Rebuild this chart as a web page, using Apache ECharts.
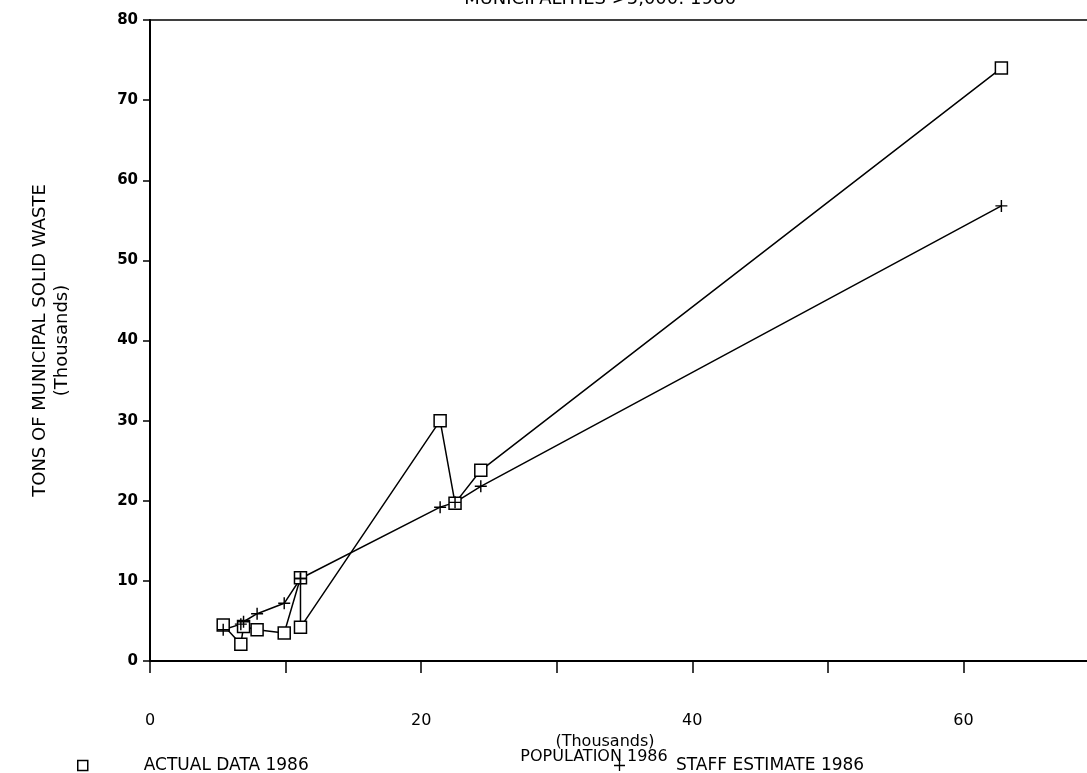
<!DOCTYPE html>
<html lang="en">
<head>
<meta charset="UTF-8">
<title>Municipal Solid Waste vs Population</title>
<script src="https://cdn.jsdelivr.net/npm/echarts@6/dist/echarts.min.js"></script>
<style>
html, body { margin: 0; padding: 0; background: #fff; }
#chart { width: 1087px; height: 773px; }
</style>
</head>
<body>
<div id="chart"></div>
<script>
// population (thousands) of each municipality, sorted
const population = [5.4, 6.7, 6.9, 7.9, 9.9, 11.1, 11.1, 21.4, 22.5, 24.4, 62.8];
// tons of waste (thousands)
const actualData = [4.5, 2.1, 4.3, 3.9, 3.5, 10.4, 4.2, 30.0, 19.7, 23.8, 74.0];
const staffEstimate = [3.9, 4.6, 4.9, 5.9, 7.2, 10.3, 10.3, 19.2, 19.8, 21.8, 56.8];
const xTicks = [0, 20, 40, 60];

const plusPath = 'path://M4.4,0H5.6V4.4H10V5.6H5.6V10H4.4V5.6H0V4.4H4.4Z';
const squarePath = 'path://M0,0H10V10H0Z';
const font = 'DejaVu Sans';

const chart = echarts.init(document.getElementById('chart'));
const option = {
animation: false,
backgroundColor: '#fff',
textStyle: { fontFamily: font, color: '#000' },
title: [
{
text: 'MUNICIPALITIES >5,000: 1986',
left: 595, top: -15, textAlign: 'center',
textStyle: { fontSize: 18, fontWeight: 'normal', color: '#000' }
},
{
text: '(Thousands)',
left: 600, top: 729, textAlign: 'center',
textStyle: { fontSize: 16, fontWeight: 'normal', color: '#000' }
},
{
text: 'POPULATION 1986',
left: 589, top: 744, textAlign: 'center',
textStyle: { fontSize: 16, fontWeight: 'normal', color: '#000' }
}
],
legend: [
{
left: 77, top: 757, padding: 0, itemWidth: 10, itemHeight: 10,
textStyle: { fontSize: 17, color: '#000', padding: [0, 0, 0, 51] },
data: [{ name: 'ACTUAL DATA 1986', icon: squarePath,
itemStyle: { color: '#fff', borderColor: '#000', borderWidth: 1.5 } }]
},
{
left: 614, top: 757, padding: 0, itemWidth: 11, itemHeight: 11,
textStyle: { fontSize: 17, color: '#000', padding: [0, 0, 0, 46] },
data: [{ name: 'STAFF ESTIMATE 1986', icon: plusPath,
itemStyle: { color: '#000', borderWidth: 0 } }]
}
],
grid: {
left: 150, top: 20, width: 949, bottom: 112,
outerBoundsMode: 'none',
show: true, borderColor: '#000', borderWidth: 1.5
},
xAxis: {
type: 'value', min: 0, max: 70, interval: 10,
axisLine: { lineStyle: { color: '#000', width: 2 } },
axisTick: { length: 12, lineStyle: { color: '#000', width: 1.5 } },
splitLine: { show: false },
axisLabel: {
margin: 52, fontSize: 16, color: '#000',
formatter: v => xTicks.includes(v) ? String(v) : ''
}
},
yAxis: {
type: 'value', min: 0, max: 80, interval: 10,
name: 'TONS OF MUNICIPAL SOLID WASTE\n(Thousands)',
nameLocation: 'middle', nameRotate: 90, nameGap: 77,
nameTextStyle: { fontSize: 18, lineHeight: 22, color: '#000' },
axisLine: { lineStyle: { color: '#000', width: 2 } },
axisTick: { length: 7, lineStyle: { color: '#000', width: 1.5 } },
splitLine: { show: false },
axisLabel: { margin: 12, fontSize: 15, fontWeight: 'bold', color: '#000' }
},
series: [
{
name: 'ACTUAL DATA 1986',
type: 'line',
data: population.map((p, i) => [p, actualData[i]]),
symbol: 'rect', symbolSize: 12,
itemStyle: { color: '#fff', borderColor: '#000', borderWidth: 1.5 },
lineStyle: { color: '#000', width: 1.5 }
},
{
name: 'STAFF ESTIMATE 1986',
type: 'line',
data: population.map((p, i) => [p, staffEstimate[i]]),
symbol: plusPath, symbolSize: 12,
itemStyle: { color: '#000' },
lineStyle: { color: '#000', width: 1.5 }
}
]
};
chart.setOption(option);
</script>
</body>
</html>
